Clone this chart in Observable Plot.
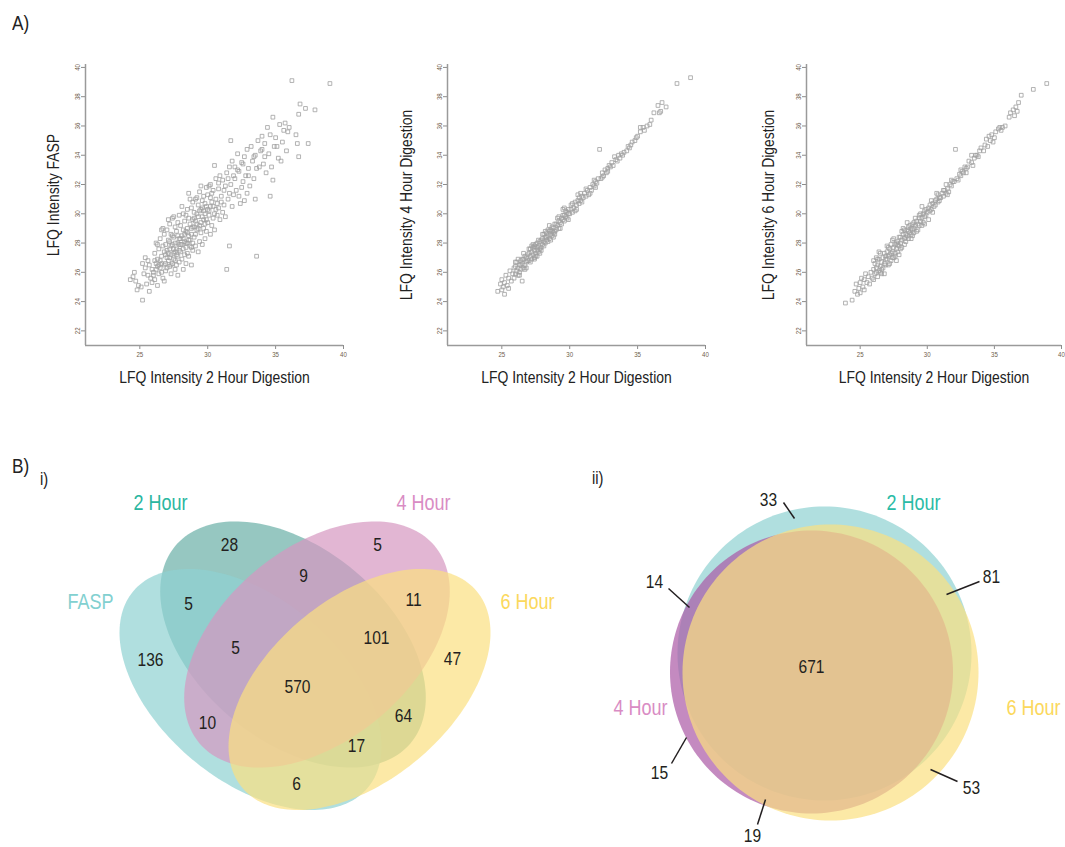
<!DOCTYPE html>
<html><head><meta charset="utf-8">
<script src="https://cdn.jsdelivr.net/npm/d3@7"></script>
<script src="https://cdn.jsdelivr.net/npm/@observablehq/plot@0.6"></script>
<style>
body{margin:0;background:#fff;}
#root{position:relative;width:1065px;height:847px;overflow:hidden;font-family:"Liberation Sans",Arial,sans-serif;color:#222;}
.lab{position:absolute;line-height:1;color:#222;transform:scaleX(0.82);transform-origin:left top;white-space:nowrap;}
</style></head><body><div id="root"></div><script>
// ---------------- DATA ----------------
const xTicks = [25, 30, 35, 40];
const yTicks = [22, 24, 26, 28, 30, 32, 34, 36, 38, 40];
const xTitle = "LFQ Intensity 2 Hour Digestion";
const yTitles = ["LFQ Intensity FASP", "LFQ Intensity 4 Hour Digestion", "LFQ Intensity 6 Hour Digestion"];

// [2 Hour, FASP]
const faspVs2h = [
[24.3,25.5],[24.6,26.0],[24.7,25.4],[24.9,25.1],[24.8,24.8],[24.5,25.7],
[25.2,24.1],[25.1,25.0],[25.3,25.9],[25.4,26.3],[25.5,25.2],[25.6,26.8],[25.7,24.7],[25.8,25.6],[25.9,26.2],[25.4,27.0],[25.7,26.5],[25.9,25.3],[25.2,26.6],[25.6,25.8],
[26.0,26.0],[26.1,27.3],[26.1,25.5],[26.2,26.6],[26.2,28.0],[26.3,25.1],[26.3,26.9],[26.4,27.6],[26.4,25.9],[26.5,26.3],[26.5,28.3],[26.6,26.0],[26.6,27.1],[26.7,25.6],[26.7,27.8],[26.8,26.5],[26.8,28.6],[26.9,27.2],[26.9,26.1],[26.5,26.8],[26.3,27.9],[26.7,29.0],[26.2,26.2],[26.8,25.4],[26.9,27.9],[26.1,26.8],[26.4,26.5],[26.6,28.9],[26.8,27.4],[26.0,25.8],
[27.0,26.3],[27.0,27.5],[27.1,28.2],[27.1,26.8],[27.2,29.3],[27.2,27.0],[27.3,25.9],[27.3,27.8],[27.4,28.5],[27.4,26.6],[27.5,27.3],[27.5,29.8],[27.6,28.0],[27.6,26.2],[27.7,27.6],[27.7,28.8],[27.8,27.1],[27.8,29.4],[27.9,28.3],[27.9,26.7],[27.0,28.9],[27.1,27.3],[27.2,26.4],[27.3,28.6],[27.4,27.9],[27.5,26.9],[27.6,29.1],[27.7,26.5],[27.8,28.0],[27.9,27.5],[27.2,28.1],[27.4,29.7],[27.6,27.4],[27.8,25.8],[27.3,27.2],[27.5,28.4],[27.9,29.9],[27.1,29.6],
[28.0,27.9],[28.0,29.2],[28.1,26.9],[28.1,28.5],[28.2,30.0],[28.2,27.6],[28.3,28.1],[28.3,29.5],[28.4,26.6],[28.4,28.8],[28.5,27.3],[28.5,30.3],[28.6,28.2],[28.6,29.7],[28.7,27.8],[28.7,31.0],[28.8,28.6],[28.8,26.5],[28.9,29.1],[28.9,27.5],[28.0,28.3],[28.1,30.5],[28.2,28.9],[28.3,27.2],[28.4,29.9],[28.5,28.7],[28.6,27.1],[28.7,29.3],[28.8,30.4],[28.9,28.0],[28.2,26.2],[28.4,28.0],[28.6,31.4],[28.8,27.7],[28.5,29.0],[28.9,30.8],
[29.0,28.4],[29.0,30.1],[29.1,29.5],[29.1,27.8],[29.2,31.1],[29.2,28.9],[29.3,27.4],[29.3,30.6],[29.4,29.2],[29.4,31.5],[29.5,28.7],[29.5,30.3],[29.6,29.8],[29.6,27.9],[29.7,31.2],[29.7,29.0],[29.8,30.7],[29.8,28.3],[29.9,29.6],[29.9,31.8],[29.0,29.7],[29.2,30.0],[29.4,28.1],[29.6,30.9],[29.8,29.3],[29.1,31.0],[29.3,29.0],[29.5,31.9],[29.7,30.2],[29.9,28.8],
[30.0,29.4],[30.0,31.3],[30.1,30.2],[30.2,28.6],[30.2,32.0],[30.3,30.8],[30.4,29.7],[30.4,31.6],[30.5,30.0],[30.5,28.9],[30.6,32.4],[30.6,31.0],[30.7,29.9],[30.8,31.7],[30.8,30.4],[30.9,32.6],[30.9,29.6],[30.1,31.9],[30.3,29.2],[30.7,30.7],[30.5,33.3],[30.2,30.5],
[31.0,31.2],[31.1,30.1],[31.1,32.3],[31.2,31.6],[31.3,29.8],[31.4,32.8],[31.4,26.2],[31.5,31.0],[31.6,27.8],[31.6,33.2],[31.7,32.0],[31.7,35.0],[31.8,30.5],[31.9,32.6],[31.9,31.3],[31.2,30.6],[31.5,32.4],[31.8,33.6],
[32.0,32.4],[32.1,31.6],[32.2,34.1],[32.3,32.9],[32.4,30.7],[32.5,33.5],[32.5,31.8],[32.6,32.2],[32.7,33.9],[32.7,30.9],[32.8,32.6],[32.9,31.4],[32.2,33.0],[32.9,34.4],
[33.0,33.1],[33.1,31.9],[33.2,34.6],[33.3,33.6],[33.4,32.4],[33.5,34.0],[33.5,31.0],[33.6,27.1],[33.7,35.0],[33.8,33.2],[33.9,34.3],[33.4,33.9],
[34.0,35.3],[34.1,33.4],[34.2,34.8],[34.3,32.8],[34.4,35.9],[34.5,34.1],[34.6,31.2],[34.6,35.4],[34.7,33.2],[34.8,36.6],[34.9,34.6],[34.8,32.3],
[35.0,35.2],[35.2,33.8],[35.3,36.1],[35.5,34.9],[35.6,35.7],[35.8,34.3],[35.9,35.6],[35.4,33.6],
[36.0,35.9],[36.2,39.1],[36.5,35.4],[36.6,34.8],[36.7,33.9],[36.8,37.5],
[37.2,37.2],[36.7,36.8],[37.9,37.1],[37.4,34.8],[39.0,38.9],
[26.3,26.4],[26.6,26.6],[26.9,26.6],[27.0,27.0],[27.2,27.6],[27.3,26.5],[27.5,27.6],[27.6,26.8],[27.7,27.2],[27.8,28.5],[27.9,27.9],[28.0,27.4],[28.1,27.9],[28.2,28.3],[28.3,28.6],[28.4,27.7],[28.5,28.0],[28.6,28.5],[28.7,28.2],[28.8,29.0],[28.9,29.6],[29.0,29.1],[29.1,28.6],[29.2,29.3],[29.3,29.8],[29.4,30.2],[29.5,29.4],[29.6,30.4],[29.7,29.6],[29.8,30.0],[29.9,30.5],[30.0,30.3],[30.1,29.9],[30.2,31.1],[30.3,31.4],[30.4,30.5],[30.6,30.3],[30.8,32.1],[31.0,30.8],[31.3,31.9],[31.6,31.4],[32.0,33.2],[32.3,31.2],[32.6,33.4],[33.0,32.6],[33.6,33.1],[34.2,33.9],[34.0,34.4],[35.1,34.6],[35.7,36.2]
];

// [2 Hour, 4 Hour]
const h4Vs2h = [
[24.7,24.7],[24.9,25.2],[25.0,24.8],[25.0,25.5],[25.1,25.0],[25.2,24.5],[25.2,25.3],[25.3,25.8],[25.4,25.1],[25.5,25.6],[25.5,24.9],[25.6,26.1],[25.7,25.4],[25.8,25.9],[25.9,25.6],[25.9,26.3],
[26.0,25.9],[26.0,26.4],[26.1,26.1],[26.1,26.7],[26.2,25.8],[26.2,26.3],[26.3,26.5],[26.3,26.0],[26.4,26.8],[26.4,26.2],[26.5,25.4],[26.5,26.6],[26.6,26.9],[26.6,26.3],[26.7,26.5],[26.7,27.1],[26.8,26.7],[26.8,26.3],[26.9,27.2],[26.9,26.8],[26.0,26.7],[26.2,26.9],[26.4,26.5],[26.6,27.3],[26.8,27.0],[26.3,25.8],[26.7,26.2],[26.5,26.9],
[27.0,26.8],[27.0,27.3],[27.1,27.1],[27.1,27.6],[27.2,26.9],[27.2,27.4],[27.3,27.2],[27.3,27.7],[27.4,27.0],[27.4,27.5],[27.5,27.3],[27.5,27.9],[27.6,27.5],[27.6,27.1],[27.7,27.8],[27.7,27.4],[27.8,27.6],[27.8,28.1],[27.9,27.7],[27.9,28.2],[27.0,27.6],[27.2,27.8],[27.4,27.8],[27.6,28.0],[27.8,27.3],[27.1,26.7],[27.3,27.9],[27.5,27.1],[27.7,28.2],[27.9,27.5],[27.4,26.9],[27.6,27.7],
[28.0,27.9],[28.0,28.3],[28.1,28.1],[28.1,28.6],[28.2,28.0],[28.2,28.4],[28.3,28.2],[28.3,28.7],[28.4,28.5],[28.4,28.1],[28.5,28.3],[28.5,28.8],[28.6,28.6],[28.6,28.9],[28.7,28.5],[28.7,29.1],[28.8,28.7],[28.8,29.0],[28.9,28.8],[28.9,29.3],[28.0,28.6],[28.2,28.8],[28.4,28.9],[28.6,28.2],[28.8,28.4],[28.1,27.8],[28.3,28.4],[28.5,29.2],[28.7,28.8],[28.9,28.6],
[29.0,28.9],[29.0,29.3],[29.1,29.2],[29.2,29.5],[29.2,29.0],[29.3,29.4],[29.4,29.7],[29.4,29.3],[29.5,29.6],[29.6,29.9],[29.6,29.5],[29.7,29.8],[29.8,30.1],[29.8,29.7],[29.9,30.0],[29.9,30.3],[29.1,29.7],[29.3,29.0],[29.5,29.9],[29.7,30.2],[29.5,30.3],[29.9,29.6],[29.2,29.8],[29.6,30.4],
[30.0,30.0],[30.1,30.3],[30.2,30.1],[30.2,30.7],[30.3,30.4],[30.4,30.8],[30.5,30.6],[30.5,30.3],[30.6,30.9],[30.7,30.7],[30.7,31.1],[30.8,30.9],[30.9,31.2],[30.9,30.8],[30.1,30.6],[30.4,30.2],[30.6,31.3],[30.8,31.4],
[31.0,31.1],[31.1,31.4],[31.2,31.2],[31.3,31.6],[31.4,31.3],[31.5,31.8],[31.6,31.6],[31.7,32.0],[31.8,31.9],[31.9,32.2],[31.2,31.7],[31.5,31.4],[31.8,32.3],[31.9,31.8],
[32.0,32.1],[32.1,32.4],[32.2,34.4],[32.3,32.4],[32.4,32.8],[32.5,32.6],[32.6,33.0],[32.7,32.8],[32.8,33.1],[32.9,33.3],[32.4,32.5],[32.8,32.9],
[33.0,33.2],[33.1,33.5],[33.2,33.3],[33.4,33.7],[33.5,33.6],[33.6,34.0],[33.7,33.8],[33.8,34.1],[33.9,34.0],[33.3,33.9],
[34.0,34.2],[34.2,34.3],[34.3,34.6],[34.5,34.7],[34.6,34.9],[34.8,35.0],[34.9,35.2],[34.4,34.5],
[35.0,35.3],[35.2,35.6],[35.4,35.9],[35.5,35.7],[35.7,36.0],[35.9,36.1],[35.2,35.9],
[36.0,36.4],[36.2,36.9],[36.5,37.4],[36.6,36.9],[36.7,37.0],[36.8,37.6],[37.1,37.3],[37.9,38.9],[38.9,39.3]
];

// [2 Hour, 6 Hour]
const h6Vs2h = [
[23.9,23.9],[24.4,24.1],[24.6,24.7],[24.7,25.2],[24.8,24.5],[24.9,24.9],[25.0,25.3],[25.0,24.6],[25.1,25.6],[25.2,25.0],[25.3,24.8],[25.3,25.5],[25.4,25.9],[25.5,25.3],[25.6,25.7],[25.7,25.2],[25.8,26.0],[25.9,25.6],
[26.0,26.2],[26.0,25.5],[26.1,26.6],[26.1,25.9],[26.2,26.3],[26.2,27.0],[26.3,25.7],[26.3,26.5],[26.4,26.9],[26.4,26.1],[26.5,26.4],[26.5,27.3],[26.6,26.7],[26.6,25.9],[26.7,26.3],[26.7,27.0],[26.8,26.6],[26.8,25.9],[26.9,27.1],[26.9,26.5],[26.0,26.8],[26.2,26.0],[26.4,27.4],[26.6,26.2],[26.8,27.3],[26.3,26.9],[26.5,26.0],[26.9,26.9],
[27.0,26.9],[27.0,27.4],[27.1,27.1],[27.1,26.5],[27.2,27.6],[27.2,27.2],[27.3,26.8],[27.3,27.9],[27.4,27.4],[27.4,27.0],[27.5,27.7],[27.5,28.3],[27.6,27.3],[27.6,27.9],[27.7,26.8],[27.7,27.6],[27.8,28.1],[27.8,27.4],[27.9,27.8],[27.9,28.4],[27.0,27.8],[27.2,26.6],[27.4,28.2],[27.6,27.1],[27.8,27.9],[27.1,27.7],[27.3,27.3],[27.5,27.0],[27.7,28.0],[27.9,27.2],
[28.0,28.0],[28.0,28.4],[28.1,28.2],[28.1,27.7],[28.2,28.6],[28.3,28.3],[28.3,28.9],[28.4,28.1],[28.4,28.6],[28.5,28.5],[28.5,29.4],[28.6,28.8],[28.6,28.3],[28.7,28.7],[28.7,29.2],[28.8,28.6],[28.8,29.0],[28.9,28.9],[28.9,28.5],[28.0,27.6],[28.2,29.0],[28.4,28.4],[28.6,29.1],[28.8,28.3],[28.1,28.8],[28.3,27.9],[28.5,28.9],[28.9,29.3],
[29.0,29.0],[29.0,29.4],[29.1,29.2],[29.2,29.5],[29.2,28.8],[29.3,29.3],[29.4,29.7],[29.4,29.2],[29.5,29.5],[29.5,30.0],[29.6,29.7],[29.7,29.4],[29.7,30.0],[29.8,29.8],[29.8,30.2],[29.9,29.9],[29.9,30.3],[29.1,29.7],[29.3,28.9],[29.6,30.5],[29.8,29.3],[29.6,29.2],[29.0,28.7],[29.4,29.9],
[30.0,30.1],[30.1,30.4],[30.2,30.2],[30.2,30.6],[30.3,30.3],[30.4,30.7],[30.5,30.5],[30.6,30.9],[30.6,30.6],[30.7,31.0],[30.8,30.8],[30.9,31.1],[30.9,30.9],[30.1,29.6],[30.4,30.1],[30.7,31.4],[30.3,30.9],[30.8,31.3],
[31.0,31.1],[31.1,31.4],[31.2,31.2],[31.3,31.6],[31.4,31.4],[31.5,31.7],[31.6,31.5],[31.7,32.0],[31.8,31.9],[31.9,32.2],[31.2,31.6],[31.5,31.3],[31.8,32.3],[31.4,32.0],
[32.0,32.2],[32.1,34.4],[32.2,32.4],[32.3,32.3],[32.4,32.7],[32.5,32.6],[32.6,32.9],[32.7,32.8],[32.8,33.2],[32.9,33.1],[32.5,33.0],[32.9,32.8],
[33.0,33.2],[33.1,33.6],[33.3,33.5],[33.4,33.3],[33.5,33.8],[33.6,34.0],[33.7,34.0],[33.8,33.9],[33.9,34.3],[33.3,34.0],
[34.0,34.5],[34.2,34.3],[34.3,34.7],[34.4,35.1],[34.5,34.6],[34.7,35.0],[34.8,35.4],[34.9,34.9],[34.6,35.3],
[35.0,35.2],[35.1,35.6],[35.3,35.8],[35.4,35.9],[35.5,35.7],[35.6,35.9],[35.8,36.0],
[36.1,36.6],[36.2,36.9],[36.4,37.1],[36.5,36.7],[36.6,37.3],[36.7,37.0],[36.8,37.6],[37.0,38.1],[37.9,38.5],[38.9,38.9]
];

// Venn i (four sets) counts
const venn4Sets = ["FASP", "2 Hour", "4 Hour", "6 Hour"];
const venn4Regions = ["FASP", "2h", "4h", "6h", "FASP∩2h", "2h∩4h", "4h∩6h", "FASP∩2h∩4h", "2h∩4h∩6h", "all", "FASP∩4h", "2h∩6h", "FASP∩2h∩6h", "FASP∩6h"];
const venn4Counts = [136, 28, 5, 47, 5, 9, 11, 5, 101, 570, 10, 64, 17, 6];

// Venn ii (three sets) counts
const venn3Sets = ["2 Hour", "4 Hour", "6 Hour"];
const venn3Regions = ["2h", "2h∩4h", "2h∩6h", "all", "4h", "6h", "4h∩6h"];
const venn3Counts = [33, 14, 81, 671, 15, 53, 19];

// ---------------- LAYOUT (geometry / styles) ----------------
const FONT = '"Liberation Sans",Arial,sans-serif';
const NARROWK = 0.82;
const root = document.getElementById("root");

function narrowText(svg) {
  svg.querySelectorAll("text").forEach(t => {
    const x = +t.getAttribute("x") || 0, y = +t.getAttribute("y") || 0;
    const tr = t.getAttribute("transform") || "";
    t.setAttribute("transform", `${tr} translate(${x},${y}) scale(${NARROWK},1) translate(${-x},${-y})`);
  });
}
function place(el, left, top) {
  narrowText(el);
  el.style.position = "absolute"; el.style.left = left + "px"; el.style.top = top + "px";
  root.appendChild(el);
}
function label(txt, left, top, size) {
  const d = document.createElement("div");
  d.className = "lab"; d.textContent = txt; d.style.fontSize = size + "px";
  d.style.left = left + "px"; d.style.top = top + "px";
  root.appendChild(d);
}

function scatter(data, yTitle, left, yTitleDx, yTitleDy, mRight) {
  const p = Plot.plot({
    width: 345, height: 400,
    marginLeft: 85, marginRight: mRight, marginTop: 64, marginBottom: 55,
    x: {domain: [21, 40]},
    y: {domain: [21, 40.2]},
    style: {background: "transparent", overflow: "visible", fontFamily: FONT},
    marks: [
      Plot.axisX(xTicks, {tickSize: 4, tickPadding: 2, fontSize: 7.5, label: null, stroke: "#8c8c8c", fill: "#6f604c"}),
      Plot.axisY(yTicks, {tickSize: 4, tickFormat: () => "", label: null, stroke: "#8c8c8c"}),
      Plot.text(yTicks, {y: d => d, text: d => String(d), frameAnchor: "left", dx: -8, rotate: -90,
        textAnchor: "middle", fontSize: 7.5, fill: "#6f604c"}),
      Plot.ruleX([21], {stroke: "#9a9a9a", strokeWidth: 1.5}),
      Plot.ruleY([21], {stroke: "#9a9a9a", strokeWidth: 1.5}),
      Plot.dot(data, {x: d => d[0], y: d => d[1], symbol: "square", r: 2.1, stroke: "#a0a0a0", strokeWidth: 0.8, fill: "none"}),
      Plot.text([yTitle], {frameAnchor: "left", textAnchor: "middle", dx: yTitleDx, dy: yTitleDy, rotate: -90, fontSize: 17, fill: "#222"}),
      Plot.text([xTitle], {frameAnchor: "bottom", textAnchor: "middle", dy: 37, fontSize: 17, fill: "#222"})
    ]
  });
  place(p, left, 0);
}

scatter(faspVs2h, yTitles[0], 0, -32, -10, 2);
scatter(h4Vs2h, yTitles[1], 362, -41, 0, 2);
scatter(h6Vs2h, yTitles[2], 721, -38, 0, 5);

// Ellipse outline generator (geometry only)
function ellipsePts(e, n = 180) {
  const t = e.angle * Math.PI / 180, pts = [];
  for (let i = 0; i <= n; i++) {
    const u = 2 * Math.PI * i / n;
    const ex = e.a * Math.cos(u), ey = e.b * Math.sin(u);
    pts.push({x: e.cx + ex * Math.cos(t) - ey * Math.sin(t), y: e.cy + ex * Math.sin(t) + ey * Math.cos(t)});
  }
  return pts;
}

// Venn i layout (pixel units inside its plot); drawn in this order
const v4Shapes = [
  {cx: 292.5, cy: 204, a: 153.5, b: 96, angle: 40, fill: "#6aafa6", op: 0.7},   // 2 Hour
  {cx: 250, cy: 249, a: 153, b: 91, angle: 40, fill: "#8ed1d1", op: 0.7},       // FASP
  {cx: 316.5, cy: 204, a: 153.5, b: 96, angle: 140, fill: "#d697c1", op: 0.7},  // 4 Hour
  {cx: 359, cy: 249, a: 153, b: 91, angle: 140, fill: "#fbe080", op: 0.7}       // 6 Hour
];
const v4SetPos = [[90, 161, "#82d0d0"], [160, 62, "#2ab6a0"], [423, 62, "#d98cc4"], [527, 161, "#fbd85c"]];
const v4CountPos = [[150, 219], [229, 104], [377, 104], [452, 218], [188, 163], [303, 135], [413, 159], [235, 207], [376, 197], [297, 246], [207, 282], [403, 275], [356, 305], [296, 343]];

const v4W = 560, v4H = 407;
const v4 = Plot.plot({
  width: v4W, height: v4H, margin: 0,
  x: {domain: [0, v4W], range: [0, v4W], axis: null},
  y: {domain: [0, v4H], range: [0, v4H], axis: null},
  style: {background: "transparent", overflow: "visible", fontFamily: FONT},
  marks: [
    ...v4Shapes.map(s => Plot.line(ellipsePts(s), {x: "x", y: "y", fill: s.fill, fillOpacity: s.op, stroke: "none"})),
    Plot.text(venn4Counts, {x: (d, i) => v4CountPos[i][0], y: (d, i) => v4CountPos[i][1], text: d => String(d), fontSize: 19, fill: "#231f20"}),
    Plot.text(venn4Sets, {x: (d, i) => v4SetPos[i][0], y: (d, i) => v4SetPos[i][1], text: d => d, fontSize: 22, fill: (d, i) => v4SetPos[i][2]})
  ]
});
place(v4, 0, 440);

// Venn ii layout; drawn in this order
const v3Shapes = [
  {cx: 264, cy: 193, a: 147, b: 147, angle: 0, fill: "#8ed2d1", op: 0.7},     // 2 Hour
  {cx: 251, cy: 211.5, a: 141.5, b: 141.5, angle: 0, fill: "#ab58a5", op: 0.7}, // 4 Hour
  {cx: 270, cy: 212, a: 148, b: 148, angle: 0, fill: "#fbe080", op: 0.7}      // 6 Hour
];
const v3SetPos = [[353, 42, "#2bbba6"], [80, 247, "#d98cc4"], [473, 247, "#fbd85c"]];
const v3CountPos = [[208, 39], [94, 121], [431, 116], [251, 206], [99, 312], [411, 327], [192, 375]];
const v3Leaders = [[223, 42, 234, 58], [108, 128, 129, 147], [419, 121, 386, 134], null, [111, 303, 126, 277], [370, 309, 397, 321], [197, 364, 205, 339]];
const v3W = 505, v3H = 387;
const v3 = Plot.plot({
  width: v3W, height: v3H, margin: 0,
  x: {domain: [0, v3W], range: [0, v3W], axis: null},
  y: {domain: [0, v3H], range: [0, v3H], axis: null},
  style: {background: "transparent", overflow: "visible", fontFamily: FONT},
  marks: [
    ...v3Shapes.map(s => Plot.line(ellipsePts(s), {x: "x", y: "y", fill: s.fill, fillOpacity: s.op, stroke: "none"})),
    Plot.link(v3Leaders.filter(d => d), {x1: d => d[0], y1: d => d[1], x2: d => d[2], y2: d => d[3], stroke: "#231f20", strokeWidth: 1.5}),
    Plot.text(venn3Counts, {x: (d, i) => v3CountPos[i][0], y: (d, i) => v3CountPos[i][1], text: d => String(d), fontSize: 19, fill: "#231f20"}),
    Plot.text(venn3Sets, {x: (d, i) => v3SetPos[i][0], y: (d, i) => v3SetPos[i][1], text: d => d, fontSize: 22, fill: (d, i) => v3SetPos[i][2]})
  ]
});
place(v3, 560, 460);

label("A)", 12, 12, 21);
label("B)", 12, 455, 21);
label("i)", 40, 470, 18);
label("ii)", 592, 469, 18);
</script></body></html>
